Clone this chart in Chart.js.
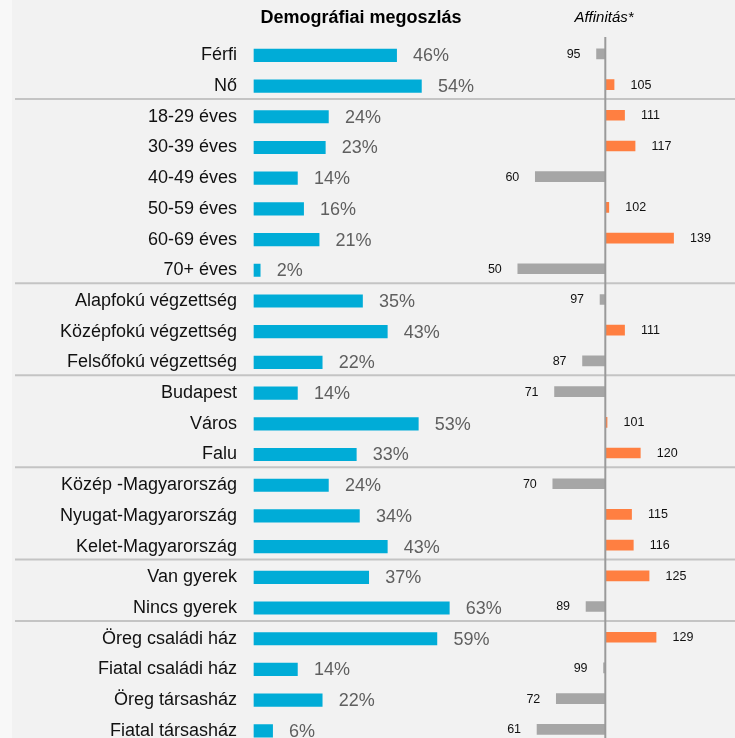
<!DOCTYPE html>
<html>
<head>
<meta charset="utf-8">
<script src="https://cdn.jsdelivr.net/npm/chart.js@4/dist/chart.umd.min.js"></script>
<style>
html,body{margin:0;padding:0;overflow:hidden;background:#f2f2f2;}
canvas{display:block;}
</style>
</head>
<body>
<canvas id="c" width="735" height="770"></canvas>
<script>
const categories = ["Férfi","Nő","18-29 éves","30-39 éves","40-49 éves","50-59 éves","60-69 éves","70+ éves",
  "Alapfokú végzettség","Középfokú végzettség","Felsőfokú végzettség",
  "Budapest","Város","Falu",
  "Közép -Magyarország","Nyugat-Magyarország","Kelet-Magyarország",
  "Van gyerek","Nincs gyerek",
  "Öreg családi ház","Fiatal családi ház","Öreg társasház","Fiatal társasház"];
const shares = [46,54,24,23,14,16,21,2,35,43,22,14,53,33,24,34,43,37,63,59,14,22,6];
const affinity = [95,105,111,117,60,102,139,50,97,111,87,71,101,120,70,115,116,125,89,129,99,72,61];
const groupEnds = [1,7,10,13,16,18];
const titleLeft = "Demográfiai megoszlás";
const titleRight = "Affinitás*";

const FONT = "'Liberation Sans', Arial, sans-serif";
const BLUE = "#00acd7", ORANGE = "#ff7f41", GREY = "#a6a6a6";

const decor = {
  id: 'decor',
  beforeDraw(chart) {
    const ctx = chart.ctx;
    ctx.save();
    ctx.fillStyle = '#f2f2f2';
    ctx.fillRect(0, 0, chart.width, chart.height);
    ctx.fillStyle = '#f8f8f8';
    ctx.fillRect(0, 0, 12, chart.height);
    ctx.restore();
  },
  beforeDatasetsDraw(chart) {
    const ctx = chart.ctx, y = chart.scales.y;
    ctx.save();
    ctx.strokeStyle = '#c4c4c4';
    ctx.lineWidth = 2;
    groupEnds.forEach(i => {
      const yy = (y.getPixelForValue(i) + y.getPixelForValue(i + 1)) / 2 - 2.5;
      ctx.beginPath();
      ctx.moveTo(15, yy);
      ctx.lineTo(chart.width, yy);
      ctx.stroke();
    });
    ctx.restore();
  },
  beforeDatasetDraw(chart, args) {
    if (args.index === 1) { chart.ctx.save(); chart.ctx.translate(0, -1.5); }
  },
  afterDatasetDraw(chart, args) {
    if (args.index === 1) { chart.ctx.restore(); }
  },
  afterDatasetsDraw(chart) {
    const ctx = chart.ctx;
    const x2 = chart.scales.x2;
    ctx.save();
    ctx.font = "18px " + FONT;
    ctx.fillStyle = '#5f5f5f';
    ctx.textAlign = 'left';
    ctx.textBaseline = 'middle';
    chart.getDatasetMeta(0).data.forEach((bar, i) => {
      ctx.fillText(shares[i] + '%', bar.x + 16.5, bar.y + 1);
    });
    ctx.font = "12.5px " + FONT;
    ctx.fillStyle = '#111';
    chart.getDatasetMeta(1).data.forEach((bar, i) => {
      const v = affinity[i];
      const left = Math.min(bar.x, bar.base), right = Math.max(bar.x, bar.base);
      if (v >= 100) { ctx.textAlign = 'left'; ctx.fillText(String(v), right + 16.5, bar.y - 1); }
      else { ctx.textAlign = 'right'; ctx.fillText(String(v), left - 16, bar.y - 1); }
    });
    const xp = x2.getPixelForValue(100);
    ctx.strokeStyle = '#9a9a9a';
    ctx.lineWidth = 2;
    ctx.beginPath();
    ctx.moveTo(xp, 37);
    ctx.lineTo(xp, chart.height);
    ctx.stroke();
    ctx.fillStyle = '#000';
    ctx.textAlign = 'center';
    ctx.font = "bold 18px " + FONT;
    ctx.fillText(titleLeft, 361, 18);
    ctx.font = "italic 15px " + FONT;
    ctx.fillText(titleRight, 604, 18);
    ctx.restore();
  }
};

new Chart(document.getElementById('c'), {
  type: 'bar',
  data: {
    labels: categories,
    datasets: [
      { data: shares, xAxisID: 'x', yAxisID: 'y', backgroundColor: BLUE, barThickness: 12.5, grouped: false },
      { data: affinity.map(v => [100, v]), xAxisID: 'x2', yAxisID: 'y',
        backgroundColor: affinity.map(v => v >= 100 ? ORANGE : GREY), barThickness: 10, grouped: false }
    ]
  },
  options: {
    indexAxis: 'y',
    responsive: false,
    animation: false,
    layout: { padding: { top: 40, bottom: 0, left: 0, right: 0 } },
    plugins: { legend: { display: false }, tooltip: { enabled: false } },
    scales: {
      y: {
        type: 'category',
        offset: true,
        grid: { display: false, drawTicks: false },
        border: { display: false },
        afterFit(s) { s.width = 250; },
        ticks: { color: '#111', font: { size: 18, family: FONT }, padding: 13, autoSkip: false }
      },
      x: { type: 'linear', display: false, min: -1.29, max: 155.16 },
      x2: { type: 'linear', display: false, min: -103.03, max: 174.11 }
    }
  },
  plugins: [decor]
});
</script>
</body>
</html>
